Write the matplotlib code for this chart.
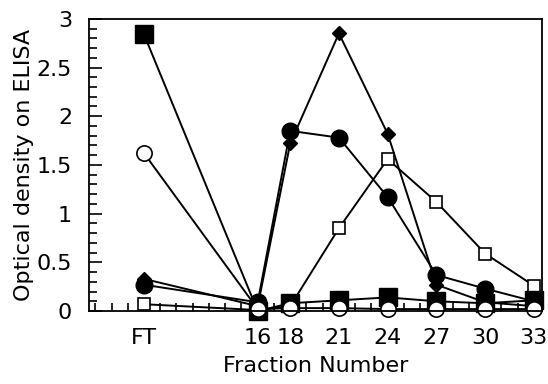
import matplotlib.pyplot as plt
from matplotlib.ticker import MultipleLocator, FixedLocator

# fraction positions (FT drawn at 9)
fractions = [9, 16, 18, 21, 24, 27, 30, 33]
tick_labels = ["FT", "16", "18", "21", "24", "27", "30", "33"]

filled_square = [2.84, 0.00, 0.08, 0.11, 0.14, 0.10, 0.08, 0.11]
open_circle = [1.62, 0.02, 0.03, 0.03, 0.02, 0.02, 0.02, 0.02]
filled_diamond = [0.33, 0.05, 1.72, 2.85, 1.82, 0.27, 0.09, 0.05]
filled_circle = [0.27, 0.09, 1.85, 1.78, 1.17, 0.37, 0.23, 0.10]
open_square = [0.07, 0.01, 0.05, 0.85, 1.56, 1.12, 0.59, 0.26]

fig = plt.figure(figsize=(5.48, 3.84), dpi=100)
ax = fig.add_axes([0.162, 0.19, 0.827, 0.761])

lw = 1.4
ax.plot(fractions, open_square, "-s", color="black", lw=lw, ms=9,
        mfc="white", mec="black", mew=1.2, clip_on=False)
ax.plot(fractions, filled_diamond, "-D", color="black", lw=lw, ms=7, clip_on=False)
ax.plot(fractions, filled_circle, "-o", color="black", lw=lw, ms=12, clip_on=False)
ax.plot(fractions, filled_square, "-s", color="black", lw=lw, ms=13, clip_on=False)
ax.plot(fractions, open_circle, "-o", color="black", lw=lw, ms=11,
        mfc="white", mec="black", mew=1.2, clip_on=False)

ax.set_xlim(5.6, 33.5)
ax.set_ylim(0, 3)
ax.xaxis.set_major_locator(FixedLocator(fractions))
ax.set_xticklabels(tick_labels)
ax.xaxis.set_minor_locator(MultipleLocator(1))
ax.yaxis.set_major_locator(MultipleLocator(0.5))
ax.yaxis.set_minor_locator(MultipleLocator(0.1))
ax.yaxis.set_major_formatter(plt.FuncFormatter(lambda v, p: "{:g}".format(v)))

ax.tick_params(which="both", direction="in", top=False, right=False,
               labelsize=16, width=1.2)
ax.tick_params(axis="y", which="major", length=9, pad=12)
ax.tick_params(axis="y", which="minor", length=6)
ax.tick_params(axis="x", which="major", length=7, pad=12)
ax.tick_params(axis="x", which="minor", length=6)
for s in ax.spines.values():
    s.set_linewidth(1.3)

ax.set_xlabel("Fraction Number", fontsize=16, labelpad=6)
ax.set_ylabel("Optical density on ELISA", fontsize=16, labelpad=2)

fig.savefig("out.png", dpi=100)
